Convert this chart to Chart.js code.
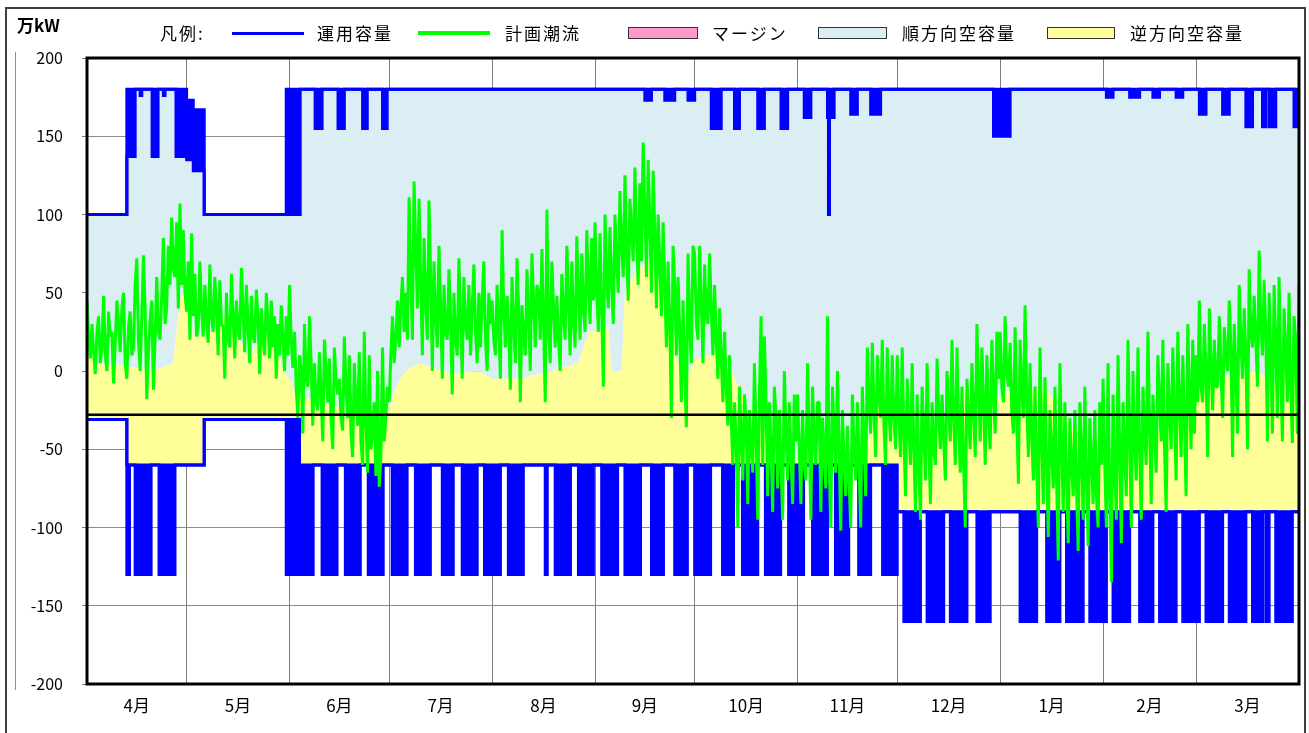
<!DOCTYPE html>
<html>
<head>
<meta charset="utf-8">
<script src="https://cdn.jsdelivr.net/npm/chart.js@4.4.1/dist/chart.umd.min.js"></script>
<style>
  body { margin: 0; background: #fff; }
  #wrap { position: relative; width: 1309px; height: 733px; overflow: hidden; font-family: 'Noto Sans CJK JP', sans-serif; }
  #c { position: absolute; left: 0; top: 0; }
  #outer { position: absolute; left: 5px; top: 7px; width: 1301px; height: 760px; border: 2px solid #404040; box-sizing: border-box; pointer-events: none; }
  .lg { position: absolute; top: 22px; height: 22px; line-height: 22px; font-size: 17px; color: #000; letter-spacing: 2px; white-space: nowrap; }
  .mark { position: absolute; }
  #unit { position: absolute; left: 17px; top: 12px; font-size: 17px; font-weight: bold; }
</style>
</head>
<body>
<div id="wrap">
  <canvas id="c" width="1309" height="733"></canvas>
  <div id="outer"></div>
  <div id="unit">万kW</div>
  <div class="lg" style="left:160px">凡例:</div>
  <div id="legend"></div>
</div>
<script>
// x axis: day of the fiscal year (0 = 4/1, 365 = end of 3/31)
const monthLabels = ['4月', '5月', '6月', '7月', '8月', '9月', '10月', '11月', '12月', '1月', '2月', '3月'];
const monthStarts = [0, 30, 61, 91, 122, 153, 183, 214, 244, 275, 306, 334, 365];
const yTicks = { min: -200, max: 200, step: 50 };
const axisCross = -28;

// 計画潮流, two readings per day (day / 2 steps)
const flowApr = [45, 20, 8, 30, 12, -2, 25, 35, 5, 15, 48, 10, 0, 38, 22, 25, -8, 18, 45, 30, 12, 40,
  50, 5, -5, 28, 38, 10, 15, 55, 72, 20, 0, 35, 74, 40, -18, 12, 32, 45, -12, 20, 60, 25, 20, 48,
  85, 30, 40, 80, 55, 98, 65, 60, 95, 40, 107, 55, 90, 50];
const flowMay = [38, 70, 20, 88, 35, 62, 22, 28, 70, 40, 22, 55, 30, 18, 68, 35, 25, 60, 40, 10,
  58, 30, 28, -5, 50, 20, 15, 62, 35, 8, 45, 25, 20, 66, 40, 12, 55, 30, 5, 48,
  22, 18, 52, 35, -2, 40, 20, 10, 50, 30, 8, 45, 15, 35, -5, 30, 10, 42, 20, 0, 35, 10];
const flowJun = [55, 20, 2, 25, -10, -30, 10, 0, -40, 30, -5, -10, 35, 5, -35, 5, -20, -25, 12, -15,
  -45, 20, 0, -20, 8, -30, -50, 15, -5, -15, -5, -30, -38, 22, -10, -30, 10, -40, -55, 5,
  -20, -35, 12, -45, -60, 25, -30, -65, 10, -50, -40, -20, -67, 0, -74, -55, 15, -45, -30, -10];
const flowJul = [-20, 10, 35, 5, 20, 45, 15, 40, 60, 25, 50, 20, 111, 60, 20, 121, 80, 40, 110, 55,
  10, 85, 45, 20, 109, 60, 0, 70, 35, 15, 80, 40, -5, 55, 25, 20, 65, 30, -15, 50,
  20, 10, 72, 35, -5, 60, 30, 20, 55, 10, 40, 68, 25, 5, 50, 15, 45, 70, 20, 0, 50, 30];
const flowAug = [45, 20, 10, 55, 30, -5, 90, 40, 15, 48, 25, -12, 60, 30, 5, 72, 40, -20, 42, 20,
  10, 65, 35, 0, 75, 45, 15, 55, 50, 20, 78, 30, -20, 103, 25, 5, 70, 40, 15, 48,
  20, 0, 62, 35, 20, 80, 45, 10, 70, 30, 15, 86, 50, 20, 75, 40, 25, 90, 55, 30, 85, 45];
const flowSep = [95, 50, 25, 88, 40, -10, 100, 60, 40, 92, 55, 30, 100, 70, 50, 115, 80, 60, 125, 75,
  45, 110, 90, 70, 130, 85, 55, 120, 70, 146, 100, 60, 135, 95, 50, 128, 88, 40, 100, 70,
  35, 95, 55, 15, 70, 30, -30, 80, 55, 10, 60, 25, -20, 45, 0, -36, 75, 30, 5, 80];
const flowOct = [75, 30, 20, 80, 45, 5, 68, 35, 30, 75, 40, 10, 55, 20, -5, 40, 10, -20, 25, -10,
  -35, 10, -30, -60, -20, -45, -100, -10, -40, -70, -15, -30, -85, -25, -50, -65, 5, -40, -95, -15,
  35, -60, 22, -20, -80, -20, -50, -90, -10, -30, -75, -25, -60, -95, 0, -40, -70, -20, -55, -85, -15, -45];
const flowNov = [-15, -50, -85, -25, -60, -70, 5, -40, -95, -10, -45, -60, -20, -20, -90, -30, -55, -75, 35, -60,
  -100, -10, -40, -65, 0, -50, -102, -25, -60, -80, -35, -70, -100, -15, -50, -70, -20, -60, -100, -10,
  -45, -80, 15, -20, -40, 18, -25, -55, 10, -15, -30, 20, -35, -60, 15, -25, -45, 10, -30, -50];
const flowDec = [10, -30, -55, 15, -40, -80, -5, -35, -60, 5, -50, -90, -15, -60, -95, -10, -40, -70, 5, -45,
  -85, -20, -50, -60, 8, -30, -50, -15, -45, -70, 0, -25, -45, 20, -30, -60, 15, -35, -65, -10,
  -60, -100, -5, -30, -50, 5, -25, -55, 30, -10, -45, 15, -20, -60, 10, -30, -50, 20, -15, -40, 25, -5];
const flowJan = [25, -10, -20, 35, 0, -10, 18, -25, -40, 28, -30, -72, 20, -10, -30, 42, -20, -55, 5, -40,
  -70, -10, -60, -100, 15, -40, -85, -4, -60, -106, -25, -50, -75, -10, -70, -121, 5, -45, -90, -20,
  -70, -110, -30, -60, -80, -25, -75, -115, -20, -50, -95, -10, -70, -112, -30, -55, -85, -25, -80, -100, -20, -60];
const flowFeb = [-5, -60, -100, 5, -80, -135, -15, -60, -95, 10, -50, -110, -20, -55, -80, 20, -40, -100, 0, -45,
  -70, 15, -50, -95, -10, -40, -60, 25, -35, -85, -15, -40, -65, 10, -20, -45, 20, -50, -90, 5,
  -25, -50, 15, -30, -70, 25, -20, -55, 10, -35, -80, 30, -15, -50, 20, -40];
const flowMar = [10, -20, 45, -10, -20, 30, 0, -55, 40, 5, -25, 20, -10, -10, 35, 0, -30, 28, 10, 0,
  45, 15, -55, 30, 0, -40, 55, 20, -5, 40, 10, -50, 65, 25, 15, 48, 20, -10, 77, 30,
  10, 58, 25, -45, 50, 10, -40, 55, 20, -30, 60, 0, -45, 40, 15, -20, 50, -10, -46, 35, 20, -40, 55];

// 運用容量: [day, value] steps, each value holds until the next point
const upperBase = [[0, 100], [12, 180], [30, 173], [32, 167], [35.3, 100], [60, 180], [365, 180]];
const upperCap = [
  [0, 100], [12, 137], [14.5, 180], [16, 176], [16.5, 180], [19.6, 137], [21.4, 180], [23, 176], [23.5, 180],
  [26.8, 137], [30, 135], [32, 128], [35.3, 100], [60, 100], [64.2, 180],
  [68.7, 155], [70.8, 180], [75.6, 155], [77.5, 180], [83, 155], [84.4, 180], [89, 155], [90.4, 180],
  [168, 173], [170, 180], [174, 173], [177, 180], [181, 173], [183, 180],
  [188, 155], [191, 180], [195, 155], [196.5, 180], [202, 155], [204, 180], [209, 155], [211, 180],
  [216, 162], [218, 180], [223, 162], [223.3, 100], [223.6, 162], [225, 180], [230, 164], [232, 180], [236, 164], [239, 180],
  [273, 150], [278, 180],
  [307, 175], [309, 180], [314, 175], [317, 180], [321, 175], [323, 180], [328, 175], [330, 180],
  [335, 164], [337, 180], [342, 164], [344, 180], [349, 156], [351, 180], [354, 156], [355, 180], [356, 156], [358, 180],
  [363.5, 156], [365, 156]
];
const lowerBase = [[0, -31], [12, -60], [35.3, -31], [64, -60], [244, -90], [365, -90]];
const lowerCap = [
  [0, -31], [12, -130], [12.8, -60], [14.5, -130], [19.3, -60], [21.7, -130], [26.5, -60], [35.3, -31],
  [60, -130], [68.1, -60], [70.8, -130], [75.3, -60], [77.8, -130], [82.3, -60], [84.7, -130], [89.2, -60],
  [91.9, -130], [96.4, -60], [98.9, -130], [103.4, -60], [107, -130], [110.3, -60], [113, -130], [117.5, -60],
  [119.7, -130], [124.5, -60], [126.9, -130], [131.4, -60], [138, -130], [138.6, -60], [141, -130], [145.6, -60],
  [148, -130], [152.5, -60], [155, -130], [159.8, -60], [162, -130], [166.7, -60], [170, -130], [173.6, -60],
  [177, -130], [180.8, -60], [183, -130], [187.8, -60], [191.4, -130], [194.7, -60], [197.4, -130], [202, -60],
  [204.3, -130], [208.9, -60], [211.3, -130], [215.8, -60], [218.5, -130], [223, -60], [225.4, -130], [229.4, -60],
  [232.4, -130], [236, -60], [239.6, -130], [244, -90],
  [246, -160], [251, -90], [253, -160], [258, -90], [260, -160], [265, -90], [268, -160], [272, -90],
  [281, -160], [286, -90], [289, -160], [293, -90], [295, -160], [300, -90], [302, -160], [307, -90],
  [309, -160], [314, -90], [317, -160], [321, -90], [323, -160], [328, -90], [330, -160], [335, -90],
  [337, -160], [342, -90], [344, -160], [349, -90], [351, -160], [354, -90], [355, -160], [356, -90],
  [358, -160], [363, -90], [365, -90]
];

// border between 逆方向空容量 (below) and 順方向空容量 (above)
const freeSplit = [
  [0, 18], [2, 5], [12, 3], [20, 0], [26, 5], [28, 45], [30, 54], [32, 22], [38, 25], [42, 37], [46, 20], [49, 7],
  [52, 22], [57, 20], [59, 0], [61, -5], [63, -15], [70, -20], [80, -25], [88, -28], [91, -25], [93, -10], [96, 0],
  [100, 5], [110, -2], [118, 0], [122, -5], [130, -5], [140, 0], [148, 5], [151, 25], [157, 28], [158, 0], [161, 0],
  [162, 50], [165, 62], [169, 71], [172, 60], [177, 22], [179, -10], [183, 7], [190, 12], [194, 0], [200, -27],
  [205, -40], [210, -55], [215, -57], [233, -57], [236, -40], [240, -8], [244, -30], [248, -50], [252, -45],
  [258, -35], [262, -30], [265, -8], [268, -20], [272, -35], [275, -15], [280, -10], [289, -12], [295, -30],
  [302, -55], [306, -55], [312, -45], [321, -40], [328, -30], [334, -10], [340, 0], [345, -5], [350, 0], [358, -5], [365, 5]
];

const legendItems = [
  { label: '運用容量', kind: 'line', color: '#0000ff', x: 232, w: 72, h: 3, tx: 317 },
  { label: '計画潮流', kind: 'line', color: '#00ff00', x: 418, w: 72, h: 4, tx: 505 },
  { label: 'マージン', kind: 'box', color: '#ff99cc', x: 628, w: 70, h: 12, tx: 712 },
  { label: '順方向空容量', kind: 'box', color: '#daeef3', x: 818, w: 69, h: 12, tx: 902 },
  { label: '逆方向空容量', kind: 'box', color: '#ffff99', x: 1047, w: 68, h: 12, tx: 1130 }
];

const BLUE = '#0000ff';
const toPts = arr => arr.map(([x, y]) => ({ x: x, y: y }));
const planFlow = [].concat(flowApr, flowMay, flowJun, flowJul, flowAug, flowSep, flowOct, flowNov, flowDec, flowJan, flowFeb, flowMar);
const monthMids = monthLabels.map((m, i) => (monthStarts[i] + monthStarts[i + 1]) / 2);

// html legend
const lg = document.getElementById('legend');
legendItems.forEach(it => {
  const m = document.createElement('div');
  m.className = 'mark';
  if (it.kind === 'line') {
    m.style.cssText = `left:${it.x}px;top:${33 - it.h / 2}px;width:${it.w}px;height:${it.h}px;background:${it.color}`;
  } else {
    m.style.cssText = `left:${it.x}px;top:27px;width:${it.w}px;height:${it.h}px;background:${it.color};border:1px solid #333;box-sizing:border-box`;
  }
  lg.appendChild(m);
  const t = document.createElement('div');
  t.className = 'lg';
  t.style.left = it.tx + 'px';
  t.textContent = it.label;
  lg.appendChild(t);
});

const framePlugin = {
  id: 'frame',
  afterDraw(chart) {
    const { ctx, chartArea: a } = chart;
    ctx.save();
    ctx.strokeStyle = '#000';
    ctx.lineWidth = 3;
    ctx.strokeRect(a.left, a.top, a.right - a.left, a.bottom - a.top);
    ctx.strokeStyle = '#909090';
    ctx.lineWidth = 1;
    ctx.beginPath();
    ctx.moveTo(15.5, a.top - 6);
    ctx.lineTo(15.5, a.bottom + 6);
    ctx.stroke();
    ctx.restore();
  }
};

Chart.defaults.font.family = "'Liberation Sans Narrow', 'Noto Sans CJK JP', sans-serif";
Chart.defaults.color = '#000';

new Chart(document.getElementById('c'), {
  type: 'line',
  data: {
    datasets: [
      { label: '順方向空容量', data: toPts(freeSplit), borderWidth: 0, pointRadius: 0, order: 9,
        fill: { target: 2, above: '#daeef3', below: '#daeef3' } },
      { label: '逆方向空容量', data: toPts(freeSplit), borderWidth: 0, pointRadius: 0, order: 8,
        fill: { target: 3, above: '#ffff99', below: '#ffff99' } },
      { label: '運用容量', data: toPts(upperBase), stepped: true, borderColor: BLUE, borderWidth: 3, pointRadius: 0, order: 7, fill: false },
      { label: '運用容量', data: toPts(lowerBase), stepped: true, borderColor: BLUE, borderWidth: 3, pointRadius: 0, order: 6, fill: false },
      { label: '運用容量', data: toPts(upperCap), stepped: true, borderColor: BLUE, borderWidth: 3, pointRadius: 0, order: 5,
        fill: { target: 2, below: BLUE, above: 'rgba(0,0,0,0)' } },
      { label: '運用容量', data: toPts(lowerCap), stepped: true, borderColor: BLUE, borderWidth: 3, pointRadius: 0, order: 4,
        fill: { target: 3, below: BLUE, above: 'rgba(0,0,0,0)' } },
      { label: '計画潮流', data: planFlow.map((v, i) => ({ x: i / 2, y: v })), borderColor: '#00ff00', borderWidth: 3,
        pointRadius: 0, order: 2, fill: false, borderJoinStyle: 'bevel' },
      { label: 'axis', data: [{ x: 0, y: axisCross }, { x: 365, y: axisCross }], borderColor: '#000', borderWidth: 2.5,
        pointRadius: 0, order: 1, fill: false }
    ]
  },
  options: {
    responsive: false,
    animation: false,
    events: [],
    layout: { padding: { top: 58, left: 0, right: 10, bottom: 0 } },
    scales: {
      x: {
        type: 'linear', min: 0, max: 365, position: 'bottom',
        afterBuildTicks: s => { s.ticks = monthStarts.map(v => ({ value: v })); },
        afterFit: s => { s.height = 0; },
        ticks: { display: false },
        grid: { color: '#7f7f7f', drawTicks: false },
        border: { display: false }
      },
      xl: {
        type: 'linear', min: 0, max: 365, position: 'bottom',
        afterBuildTicks: s => { s.ticks = monthMids.map(v => ({ value: v })); },
        afterFit: s => { s.height = 49; },
        ticks: { autoSkip: false, maxRotation: 0, padding: 11, font: { size: 17 },
          callback: (v, i) => monthLabels[i] },
        grid: { display: false, drawTicks: false },
        border: { display: false }
      },
      y: {
        min: yTicks.min, max: yTicks.max,
        afterFit: s => { s.width = 87; },
        ticks: { stepSize: yTicks.step, padding: 19, font: { size: 16 } },
        grid: { color: '#8c8c8c', tickLength: 5, tickColor: '#808080' },
        border: { display: false }
      }
    },
    plugins: { legend: { display: false }, tooltip: { enabled: false } }
  },
  plugins: [framePlugin]
});
</script>
</body>
</html>
